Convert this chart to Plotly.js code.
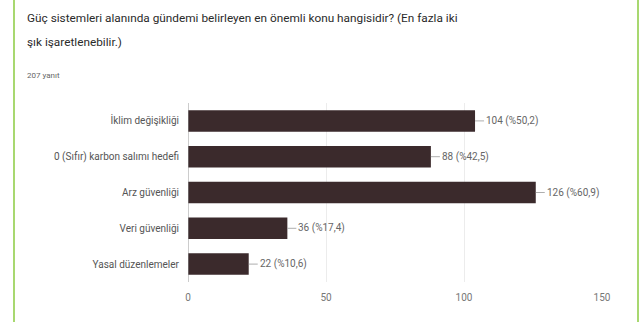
<!DOCTYPE html>
<html>
<head>
<meta charset="utf-8">
<script src="https://cdn.plot.ly/plotly-3.0.1.min.js"></script>
<style>
html,body{margin:0;padding:0;background:#fff;}
#wrap{position:relative;width:641px;height:322px;overflow:hidden;}
#chart{position:absolute;left:0;top:0;width:641px;height:322px;}
#frame{position:absolute;left:13px;top:-10px;width:622px;height:330px;border:2px solid #a8d870;pointer-events:none;}
</style>
</head>
<body>
<div id="wrap">
<div id="chart"></div>
<div id="frame"></div>
</div>
<script>
var titleLine1 = "Güç sistemleri alanında gündemi belirleyen en önemli konu hangisidir? (En fazla iki";
var titleLine2 = "şık işaretlenebilir.)";
var responses = "207 yanıt";
var categories = ["İklim değişikliği", "0 (Sıfır) karbon salımı hedefi", "Arz güvenliği", "Veri güvenliği", "Yasal düzenlemeler"];
var counts = [104, 88, 126, 36, 22];
var percents = ["%50,2", "%42,5", "%60,9", "%17,4", "%10,6"];
var tickVals = [0, 50, 100, 150];

var trace = {
  type: "bar",
  orientation: "h",
  x: counts,
  y: categories,
  marker: {color: "#3b2a2c"},
  hoverinfo: "none"
};

var annotations = categories.map(function(c, i){
  return {
    x: counts[i], y: c, xref: "x", yref: "y",
    text: counts[i] + " (" + percents[i] + ")",
    showarrow: true, arrowhead: 0, arrowwidth: 0.8, arrowcolor: "#999",
    ax: 9, ay: 0, xanchor: "left", standoff: 0, startstandoff: 0,
    font: {family: "Roboto", size: 10, color: "#666"}
  };
});
annotations.push({
  xref: "paper", yref: "paper", x: -0.394, y: 1.475, xanchor: "left", yanchor: "middle",
  text: titleLine1, showarrow: false, font: {family: "Roboto", size: 11.8, color: "#2a2a2a"}
});
annotations.push({
  xref: "paper", yref: "paper", x: -0.394, y: 1.34, xanchor: "left", yanchor: "middle",
  text: titleLine2, showarrow: false, font: {family: "Roboto", size: 11.8, color: "#2a2a2a"}
});
annotations.push({
  xref: "paper", yref: "paper", x: -0.394, y: 1.156, xanchor: "left", yanchor: "middle",
  text: responses, showarrow: false, font: {family: "Roboto", size: 8, color: "#666"}
});

var layout = {
  width: 641, height: 322,
  margin: {l: 188, r: 39, t: 103, b: 40},
  paper_bgcolor: "#fff", plot_bgcolor: "#fff",
  showlegend: false,
  bargap: 0.4,
  xaxis: {
    range: [0, 150], tickvals: tickVals, ticktext: tickVals.map(String),
    showgrid: true, gridcolor: "#ececec", gridwidth: 1,
    zeroline: false, showline: false,
    tickfont: {family: "Roboto", size: 10, color: "#777"},
    ticks: "", ticklen: 0, ticklabelstandoff: 8
  },
  yaxis: {
    autorange: "reversed", showgrid: false, zeroline: false,
    showline: false, ticks: "", ticklen: 0, ticklabelstandoff: 8,
    tickfont: {family: "Roboto", size: 10, color: "#555"}
  },
  shapes: [{type: "line", xref: "x", yref: "paper", x0: 0, x1: 0, y0: 0, y1: 1,
            line: {color: "#999", width: 1}}],
  annotations: annotations
};

Plotly.newPlot("chart", [trace], layout, {displayModeBar: false, staticPlot: true});
</script>
</body>
</html>
